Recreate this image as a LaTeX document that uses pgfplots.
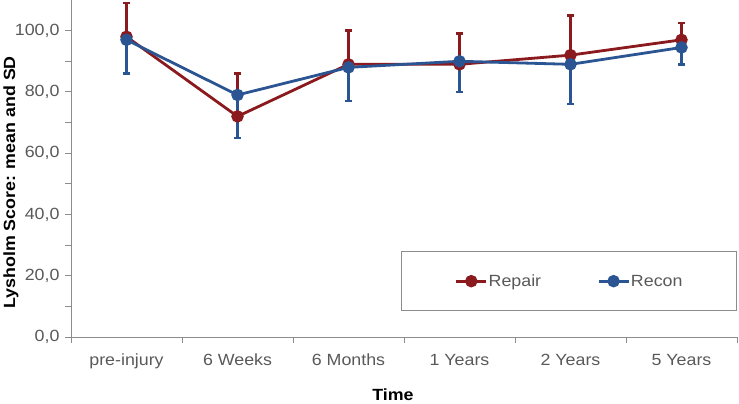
\documentclass[border=0pt]{standalone}
\usepackage{pgfplots}
\pgfplotsset{compat=1.18}
\usepackage{fontspec}
\setmainfont{Liberation Sans}[FakeStretch=1.1]

\definecolor{repair}{HTML}{8B1A1E}
\definecolor{recon}{HTML}{2B5592}
\definecolor{axisgray}{HTML}{8C8C8C}
\definecolor{ticktext}{HTML}{595959}

% x: 0 = pre-injury ... 5 = 5 Years, e = SD (Repair drawn up, Recon drawn down)
\pgfplotstableread{
x y e
0 98 11
1 72 14
2 89 11
3 89 10
4 92 13
5 97 5.5
}\repair

\pgfplotstableread{
x y e
0 97 11
1 79 14
2 88 11
3 90 10
4 89 13
5 94.5 5.5
}\recon

\begin{document}
\begin{tikzpicture}
\begin{axis}[
    name=ax,
    scale only axis,
    width=666pt,
    height=337pt,
    font=\fontsize{16.2}{19}\selectfont,
    xmin=-0.5, xmax=5.5,
    ymin=0, ymax=110,
    axis x line*=bottom,
    axis y line*=left,
    axis line style={axisgray, line width=1pt, -},
    tick align=outside,
    xtick={0,...,5},
    xticklabels={pre-injury,6 Weeks,6 Months,1 Years,2 Years,5 Years},
    minor xtick={-0.5,0.5,...,5.5},
    major x tick style={draw=none},
    minor x tick style={axisgray, line width=1pt},
    minor tick length=6pt,
    ytick={0,20,...,100},
    minor ytick={10,30,...,90},
    major tick length=6pt,
    y tick style={axisgray, line width=1pt},
    tick label style={ticktext},
    xticklabel style={anchor=base, yshift=-22pt},
    yticklabel style={xshift=-2pt,
        /pgf/number format/.cd, fixed, fixed zerofill, precision=1, use comma,
        assume math mode=true},
    xlabel={\textbf{Time}},
    ylabel={\textbf{Lysholm Score: mean and SD}},
    label style={color=black!75},
    every axis x label/.style={at={(axis description cs:0.4835,-0.172)}, anchor=center},
    every axis y label/.style={at={(axis description cs:-0.0901,0.4585)}, rotate=90, anchor=center},
    legend columns=2,
    legend style={
        at={(1,0.255)}, anchor=north east,
        draw=axisgray, line width=1pt,
        inner xsep=53pt, inner ysep=21pt,
        font=\fontsize{16.2}{19}\selectfont,
        text=ticktext,
        nodes={inner xsep=1pt},
        /tikz/every even column/.append style={column sep=55pt},
    },
    legend image code/.code={
        \draw[mark repeat=2, mark phase=2, #1]
            plot coordinates {(0pt,0pt) (15pt,0pt) (30pt,0pt)};
    },
    every axis plot/.append style={line width=2.8pt},
    error bars/error bar style={line width=2.4pt},
    error bars/error mark options={rotate=90, mark size=3.5pt, line width=2.4pt},
]

\addplot[color=repair, mark=*, mark size=4.8pt,
    error bars/.cd, y dir=plus, y explicit]
    table[x=x, y=y, y error=e] {\repair};
\addlegendentry{Repair}

\addplot[color=recon, mark=*, mark size=4.8pt,
    error bars/.cd, y dir=minus, y explicit]
    table[x=x, y=y, y error=e] {\recon};
\addlegendentry{Recon}

\end{axis}
\pgfresetboundingbox
\path ([xshift=-71pt, yshift=-66pt]ax.south west) rectangle ([xshift=2pt]ax.north east);
\end{tikzpicture}
\end{document}
